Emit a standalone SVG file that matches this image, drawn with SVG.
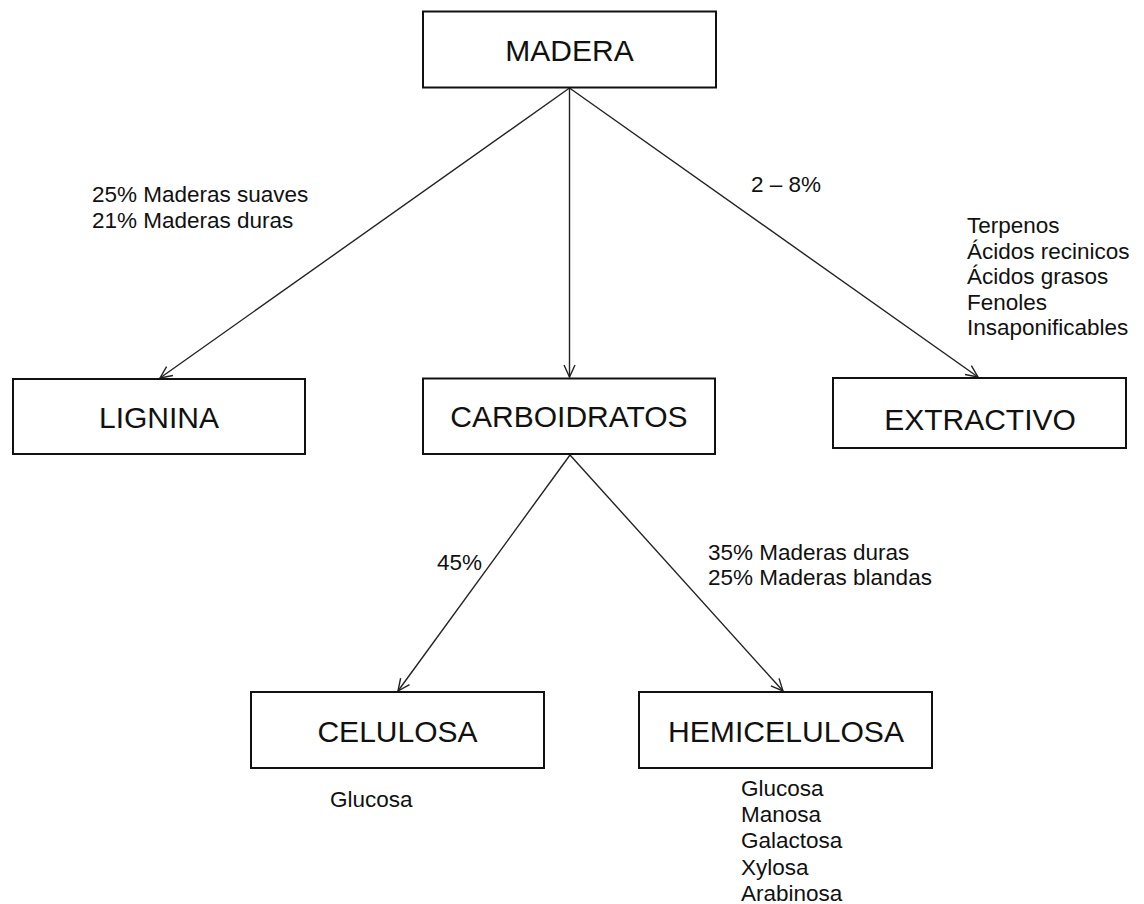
<svg xmlns="http://www.w3.org/2000/svg" width="1144" height="904" viewBox="0 0 1144 904">
<style>
.box{fill:#fff;stroke:#111;stroke-width:2}
.bt{font-family:"Liberation Sans",Arial,sans-serif;font-size:30px;fill:#111;text-anchor:middle}
.lb{font-family:"Liberation Sans",Arial,sans-serif;font-size:22.5px;fill:#111}
.ln{stroke:#222;stroke-width:1.4;fill:none;marker-end:url(#arr)}
</style>
<defs>
<marker id="arr" viewBox="-13 -7 15 14" refX="0" refY="0" markerWidth="15" markerHeight="14" markerUnits="userSpaceOnUse" orient="auto">
<path d="M-12,-5.5 L0,0 L-12,5.5" fill="none" stroke="#222" stroke-width="1.4"/>
</marker>
</defs>
<rect width="1144" height="904" fill="#fff"/>
<g id="connectors">
<line class="ln" x1="569.5" y1="88" x2="160" y2="378"/>
<line class="ln" x1="569.5" y1="88" x2="569.5" y2="377"/>
<line class="ln" x1="569.5" y1="88" x2="978" y2="377"/>
<line class="ln" x1="570" y1="455" x2="398" y2="691"/>
<line class="ln" x1="570" y1="455" x2="783" y2="691"/>
</g>
<g id="madera"><rect class="box" x="423" y="11.5" width="293" height="76"/><text class="bt" x="569.5" y="60.5">MADERA</text></g>
<g id="lignina"><rect class="box" x="13" y="379" width="292" height="75"/><text class="bt" x="159" y="427.5">LIGNINA</text></g>
<g id="carboidratos"><rect class="box" x="423" y="378.5" width="292" height="75.5"/><text class="bt" x="569" y="426.5">CARBOIDRATOS</text></g>
<g id="extractivo"><rect class="box" x="833" y="378" width="293" height="70"/><text class="bt" x="980" y="429.5">EXTRACTIVO</text></g>
<g id="celulosa"><rect class="box" x="251" y="692" width="293" height="76"/><text class="bt" x="397.5" y="741.5">CELULOSA</text></g>
<g id="hemicelulosa"><rect class="box" x="639" y="692" width="293" height="76"/><text class="bt" x="786" y="741.5" textLength="236" lengthAdjust="spacingAndGlyphs">HEMICELULOSA</text></g>
<g id="labels">
<text class="lb" x="92" y="202">25% Maderas suaves</text>
<text class="lb" x="92" y="228">21% Maderas duras</text>
<text class="lb" x="751" y="192">2 – 8%</text>
<text class="lb" x="967" y="233">Terpenos</text>
<text class="lb" x="967" y="258.5">Ácidos recinicos</text>
<text class="lb" x="967" y="284">Ácidos grasos</text>
<text class="lb" x="967" y="309.5">Fenoles</text>
<text class="lb" x="967" y="335">Insaponificables</text>
<text class="lb" x="437" y="570">45%</text>
<text class="lb" x="708" y="559.5">35% Maderas duras</text>
<text class="lb" x="708" y="585">25% Maderas blandas</text>
<text class="lb" x="330" y="806.5">Glucosa</text>
<text class="lb" x="741" y="796">Glucosa</text>
<text class="lb" x="741" y="822">Manosa</text>
<text class="lb" x="741" y="848">Galactosa</text>
<text class="lb" x="741" y="874.5">Xylosa</text>
<text class="lb" x="741" y="900.5">Arabinosa</text>
</g>
</svg>
